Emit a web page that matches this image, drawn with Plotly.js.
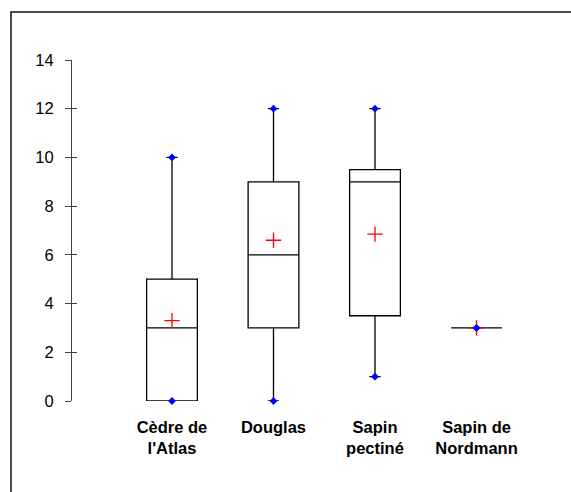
<!DOCTYPE html>
<html><head><meta charset="utf-8">
<script src="https://cdn.plot.ly/plotly-3.0.1.min.js"></script>
<style>html,body{margin:0;padding:0;background:#fff}</style>
</head><body>
<div id="chart" style="width:571px;height:492px"></div>
<script>
const categories = ["Cèdre de l'Atlas", "Douglas", "Sapin pectiné", "Sapin de Nordmann"];
const tickLabels = ["Cèdre de<br>l'Atlas", "Douglas", "Sapin<br>pectiné", "Sapin de<br>Nordmann"];
const minimum = [0, 0, 1, 3];
const q1 = [0, 3, 3.5, 3];
const median = [3, 6, 9, 3];
const q3 = [5, 9, 9.5, 3];
const maximum = [10, 12, 12, 3];
const mean = [3.3, 6.6, 6.85, 3];
const yTicks = [0, 2, 4, 6, 8, 10, 12, 14];

const font = "Liberation Sans, Arial, sans-serif";

const traces = [
  {
    type: 'box', x: categories, q1: q1, median: median, q3: q3,
    lowerfence: minimum, upperfence: maximum,
    width: 0.5, whiskerwidth: 0.22,
    line: {color: '#000', width: 1.3}, fillcolor: 'rgba(0,0,0,0)',
    hoverinfo: 'skip', showlegend: false
  },
  {
    type: 'scatter', mode: 'markers', x: categories, y: mean,
    marker: {symbol: 'cross-thin-open', size: 11, color: 'red', line: {color: 'red', width: 1.3}},
    cliponaxis: false, hoverinfo: 'skip', showlegend: false
  },
  {
    type: 'scatter', mode: 'markers', x: categories.concat(categories), y: minimum.concat(maximum),
    marker: {symbol: 'diamond', size: 6, color: '#0000ff'},
    cliponaxis: false, hoverinfo: 'skip', showlegend: false
  },
  {
    type: 'scatter', mode: 'markers', x: categories, y: median, yaxis: 'y2',
    marker: {opacity: 0}, hoverinfo: 'skip', showlegend: false
  }
];

const layout = {
  width: 571, height: 492,
  margin: {l: 72, r: 41, t: 60, b: 91.3},
  paper_bgcolor: '#fff', plot_bgcolor: 'rgba(0,0,0,0)',
  showlegend: false,
  font: {family: font, size: 16.5, color: '#000'},
  xaxis: {
    type: 'category', range: [-0.985, 3.527],
    tickvals: categories, ticktext: tickLabels,
    showline: false, ticks: '', showgrid: false, zeroline: false,
    tickfont: {family: font, size: 16.5, weight: 'bold', color: '#000'},
    ticklabelstandoff: 14
  },
  yaxis: {
    range: [0, 14], tickvals: yTicks,
    showline: true, linecolor: '#444', linewidth: 1,
    ticks: 'outside', ticklen: 6, tickcolor: '#444', tickwidth: 1,
    showgrid: false, zeroline: false,
    tickfont: {family: font, size: 16.5, color: '#000'},
    ticklabelstandoff: 8
  },
  yaxis2: {
    overlaying: 'y', side: 'left', range: [0, 14], tickvals: yTicks,
    ticks: 'inside', ticklen: 5, tickcolor: '#444', tickwidth: 1,
    showticklabels: false, showline: false, showgrid: false, zeroline: false
  },
  shapes: [{
    type: 'rect', xref: 'paper', yref: 'paper',
    x0: -0.1332, x1: 1.12, y0: -0.3, y1: 1.141,
    line: {color: '#111', width: 1.5}, fillcolor: 'rgba(0,0,0,0)', layer: 'below'
  }]
};

Plotly.newPlot('chart', traces, layout, {staticPlot: true, displayModeBar: false});
</script>
</body></html>
